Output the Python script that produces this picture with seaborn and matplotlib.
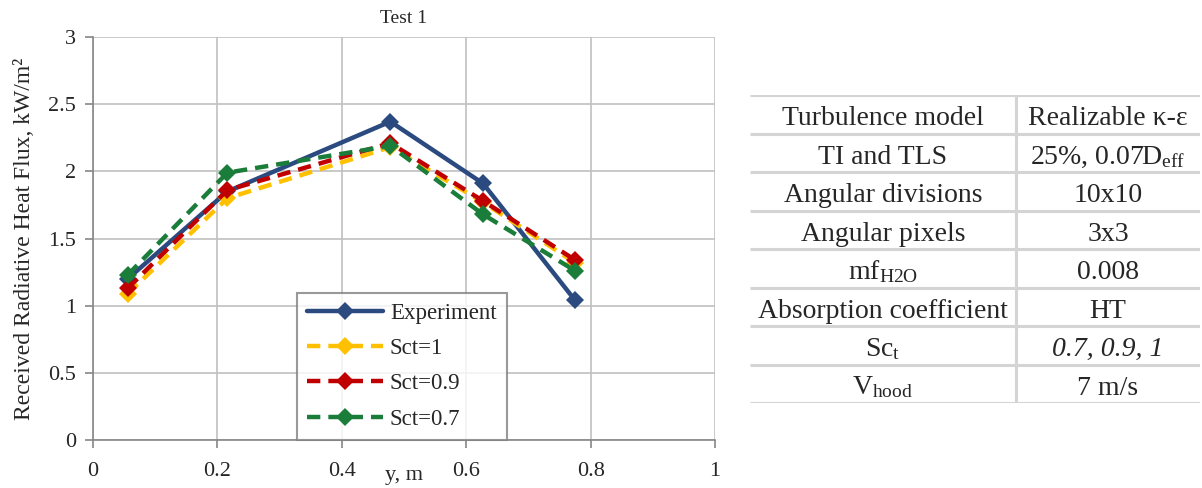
import numpy as np
import pandas as pd
import matplotlib
matplotlib.use("Agg")
import matplotlib.pyplot as plt
import seaborn as sns

# ---- data ----
y_pos = [0.056, 0.216, 0.478, 0.627, 0.775]
experiment = [1.20, 1.85, 2.37, 1.91, 1.04]
sct_1 = [1.09, 1.80, 2.18, 1.77, 1.32]
sct_09 = [1.13, 1.86, 2.21, 1.78, 1.34]
sct_07 = [1.23, 1.99, 2.19, 1.68, 1.26]
series_names = ["Experiment", "Sct=1", "Sct=0.9", "Sct=0.7"]
series_values = [experiment, sct_1, sct_09, sct_07]
series_colors = ["#2a4a80", "#ffc000", "#c00000", "#1a7d3a"]

x_ticks = [0, 0.2, 0.4, 0.6, 0.8, 1]
x_tick_labels = ["0", "0.2", "0.4", "0.6", "0.8", "1"]
y_ticks = [0, 0.5, 1, 1.5, 2, 2.5, 3]
y_tick_labels = ["0", "0.5", "1", "1.5", "2", "2.5", "3"]

table_params = ["Turbulence model", "TI and TLS", "Angular divisions", "Angular pixels",
                r"mf$_{\mathregular{H2O}}$", "Absorption coefficient", r"Sc$_{\mathregular{t}}$",
                r"V$_{\mathregular{hood}}$"]
table_values = ["Realizable \u03ba-\u03b5", r"25%, 0.07D$_{\mathregular{eff}}$", "10x10", "3x3",
                "0.008", "HT", "0.7, 0.9, 1", "7 m/s"]
italic_values = {"0.7, 0.9, 1"}

sns.set_theme(style="white")
plt.rcParams["font.family"] = ["Liberation Serif", "DejaVu Serif"]
plt.rcParams["mathtext.fontset"] = "custom"
plt.rcParams["mathtext.rm"] = "Liberation Serif"
plt.rcParams["mathtext.it"] = "Liberation Serif:italic"

fig = plt.figure(figsize=(12.02, 4.88), dpi=100)
ax = fig.add_axes([93 / 1202, 1 - 440 / 488, 622 / 1202, 403 / 488])

rows = []
for name, vals in zip(series_names, series_values):
    for x, v in zip(y_pos, vals):
        rows.append({"y": x, "flux": v, "series": name})
df = pd.DataFrame(rows)

palette = dict(zip(series_names, series_colors))
dashes = {"Experiment": "", "Sct=1": (3, 1.8), "Sct=0.9": (3, 1.8), "Sct=0.7": (3, 1.8)}
markers = {n: "D" for n in series_names}
sns.lineplot(data=df, x="y", y="flux", hue="series", style="series", palette=palette,
             dashes=dashes, markers=markers, markersize=9, linewidth=3.2,
             markeredgewidth=0, ax=ax, legend=True, sort=False)

ax.set_xlim(0, 1)
ax.set_ylim(0, 3)
ax.set_xticks(x_ticks)
ax.set_xticklabels(x_tick_labels)
ax.set_yticks(y_ticks)
ax.set_yticklabels(y_tick_labels)
ax.grid(True, color="#c0c0c0", linewidth=1.2)
for side in ["top", "right"]:
    ax.spines[side].set_visible(False)
for side in ["left", "bottom"]:
    ax.spines[side].set_color("#868686")
    ax.spines[side].set_linewidth(1.2)
ax.tick_params(axis="both", which="major", length=6, width=1.2, color="#868686",
               labelsize=16, bottom=True, left=True, direction="out")
ax.tick_params(axis="x", pad=10)
ax.tick_params(axis="y", pad=6)
ax.set_xlabel("y, m", fontsize=16, labelpad=-11)
ax.set_ylabel("Received Radiative Heat Flux, kW/m\u00b2", fontsize=17, labelpad=10)
ax.set_title("Test 1", fontsize=14, pad=10)

leg = ax.legend(loc="lower left", bbox_to_anchor=(204 / 622, 0.0), fontsize=16.5,
                frameon=True, fancybox=False, edgecolor="#808080", handlelength=3.3,
                labelspacing=0.62, borderpad=0.45, handletextpad=0.3, borderaxespad=0)
leg.get_frame().set_linewidth(1.5)

# ---- table ----
tax = fig.add_axes([750 / 1202, 1 - 403 / 488, 450 / 1202, 308 / 488])
tax.set_xlim(0, 450)
tax.set_ylim(308, 0)
tax.axis("off")
n = len(table_params)
rh = 308 / n
split = 266
for i in range(n + 1):
    tax.plot([0, 450], [i * rh, i * rh], color="#d4d4d4", linewidth=2.2, solid_capstyle="butt")
tax.plot([split, split], [0, 308], color="#d4d4d4", linewidth=2.2)
for i, (p, v) in enumerate(zip(table_params, table_values)):
    yb = i * rh + 0.78 * rh
    tax.text(split / 2, yb, p, ha="center", va="baseline", fontsize=20)
    tax.text((split + 450) / 2, yb, v, ha="center", va="baseline", fontsize=20,
             fontstyle="italic" if v in italic_values else "normal")

fig.savefig("out.png", dpi=100)
